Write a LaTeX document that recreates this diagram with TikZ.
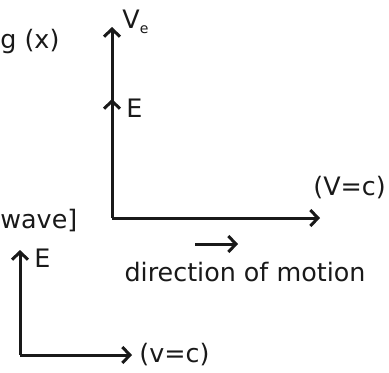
\documentclass[tikz,border=0pt]{standalone}
\usepackage{fontspec}
\setmainfont{DejaVu Sans}
\usepackage{tikz}
\usetikzlibrary{arrows.meta,positioning}

\begin{document}
\begin{tikzpicture}[
  x=0.5pt, y=-0.5pt,
  eixo/.style={line width=1.5pt, draw=black!90,
               -{Straight Barb[length=3.8pt, width=8pt, line width=1.5pt]}},
  rotulo/.style={inner sep=0pt, font=\fontsize{12.7}{15}\selectfont, text=black!90}
]
  \useasboundingbox (0,0) rectangle (389,372);

  % eixos do quadro de cima
  \coordinate (orig) at (112,218);
  \coordinate (topo) at (112,27);
  \coordinate (meio) at (112,99);
  \coordinate (dir) at (320,218);
  % eixos do quadro de baixo
  \coordinate (orig2) at (20,355);
  \coordinate (topo2) at (20,250);
  \coordinate (dir2) at (132,355);
  % seta da direcao do movimento
  \coordinate (mov1) at (195,244);
  \coordinate (mov2) at (238,244);

  \draw[eixo] (orig) -- (topo);
  \draw[eixo] (orig) -- (meio);
  \draw[eixo] (orig) -- (dir);
  \draw[eixo] (orig2) -- (topo2);
  \draw[eixo] (orig2) -- (dir2);
  \draw[eixo] (mov1) -- (mov2);

  \node[rotulo, anchor=base west] (ve) at (122,28) {V\raisebox{-0.4ex}{\fontsize{7}{7}\selectfont e}};
  \node[rotulo, anchor=base west] (ecima) at (126,117) {E};
  \node[rotulo, anchor=base west] (vc) at (313,195) {(V=c)};
  \node[rotulo, anchor=base] (movimento) at (245,281) {direction of motion};
  \node[rotulo, anchor=base west] (ebaixo) at (34,267) {E};
  \node[rotulo, right=7 of dir2] (vc2) {(v=c)};
  \node[rotulo, anchor=west] (gx) at (0,41) {g (x)};
  \node[rotulo, anchor=west] (onda) at (0,221) {wave]};
\end{tikzpicture}
\end{document}
